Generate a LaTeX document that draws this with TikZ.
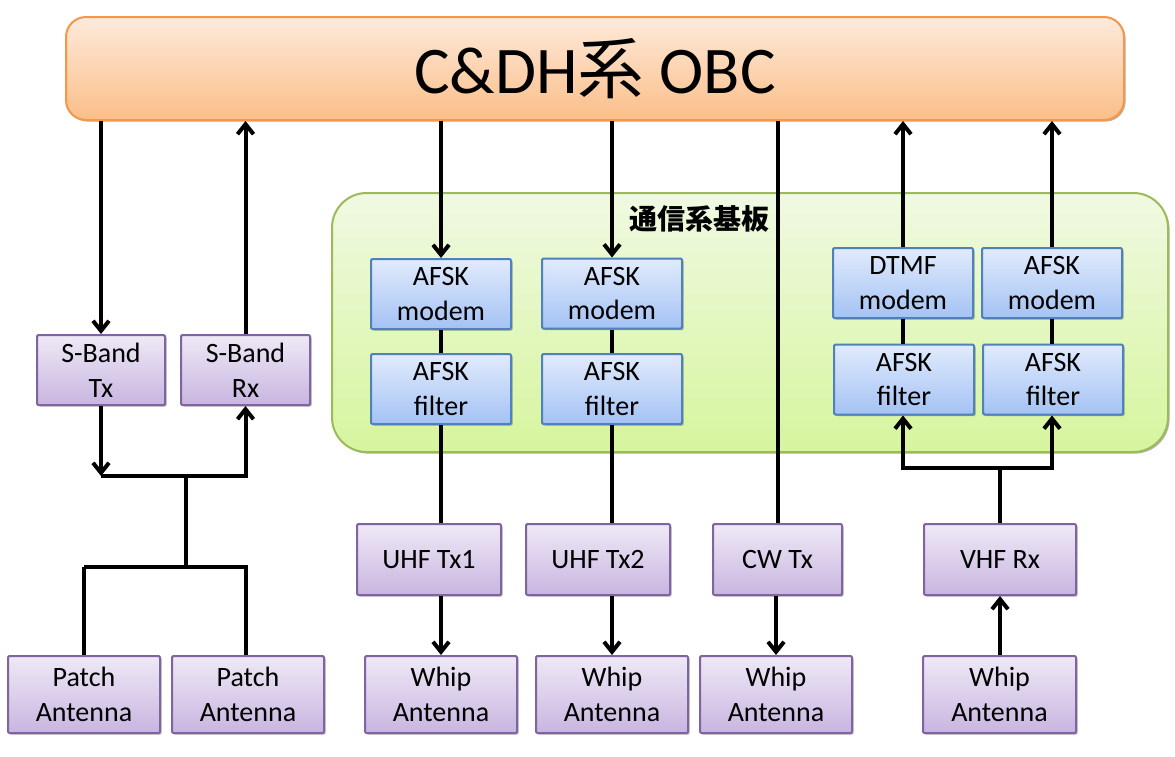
\documentclass[tikz,border=0pt]{standalone}
\usepackage{fontspec}
\setmainfont{Carlito}
\newfontfamily\cjk{Noto Sans CJK JP}
\usetikzlibrary{arrows.meta,shadows}
\newdimen\px \px=0.75pt
\definecolor{pborder}{HTML}{8064A2}
\definecolor{ptop}{HTML}{EFE9F6}
\definecolor{pbot}{HTML}{C8B5E0}
\definecolor{bborder}{HTML}{4F81BD}
\definecolor{btop}{HTML}{E1EBFC}
\definecolor{bbot}{HTML}{A4C2F4}
\definecolor{oborder}{HTML}{F79646}
\definecolor{otop}{HTML}{FDEADB}
\definecolor{obot}{HTML}{FBBE88}
\definecolor{gborder}{HTML}{9BBB59}
\definecolor{gtop}{HTML}{F0F9E2}
\definecolor{gbot}{HTML}{D6F59E}
\tikzset{
  shad/.style={drop shadow={shadow xshift=1.2pt,shadow yshift=-1.2pt,opacity=0.3,fill=black}},
  pbox/.style={shad,draw=pborder,line width=1.5pt,top color=ptop,bottom color=pbot,
    rounded corners=1pt,inner sep=0pt,align=center,font=\fontsize{21}{26}\selectfont},
  bbox/.style={shad,draw=bborder,line width=1.5pt,top color=btop,bottom color=bbot,
    rounded corners=1pt,inner sep=0pt,align=center,font=\fontsize{21}{26}\selectfont,
    minimum width=140\px,minimum height=70\px},
  conn/.style={line width=3pt},
  arr/.style={conn,-{Straight Barb[length=7.5pt,width=12pt,line width=3pt]}},
}
\begin{document}
\begin{tikzpicture}[x=0.75pt,y=-0.75pt]
\useasboundingbox (0,0) rectangle (1175,757);
% green board
\node[shad,draw=gborder,line width=1.5pt,top color=gtop,bottom color=gbot,rounded corners=26pt,
  minimum width=836\px,minimum height=259\px,inner sep=0pt] (board) at (750,322.5) {};
\node[font=\cjk\bfseries\fontsize{21}{24}\selectfont] (boardlbl) at (699,219) {通信系基板};
% OBC
\node[shad,draw=oborder,line width=1.5pt,top color=otop,bottom color=obot,rounded corners=15pt,
  minimum width=1058\px,minimum height=103\px,inner sep=0pt,font=\fontsize{50}{58}\selectfont] (obc) at (595,68.5) {C\&DH{\cjk 系} OBC};
% S-band
\node[pbox,minimum width=128\px,minimum height=70\px] (stx) at (101,370) {S-Band\\Tx};
\node[pbox,minimum width=129\px,minimum height=70\px] (srx) at (245.5,370) {S-Band\\Rx};
\node[pbox,minimum width=152\px,minimum height=77\px] (pa1) at (84,694.5) {Patch\\Antenna};
\node[pbox,minimum width=152\px,minimum height=77\px] (pa2) at (248,694.5) {Patch\\Antenna};
% blue boxes
\node[bbox] (m1) at (441,294) {AFSK\\modem};
\node[bbox] (f1) at (441,389) {AFSK\\filter};
\node[bbox] (m2) at (612,293.5) {AFSK\\modem};
\node[bbox] (f2) at (612,389) {AFSK\\filter};
\node[bbox] (m3) at (903,283) {DTMF\\modem};
\node[bbox] (m4) at (1052,283) {AFSK\\modem};
\node[bbox] (f3) at (904,379.5) {AFSK\\filter};
\node[bbox] (f4) at (1053,379.5) {AFSK\\filter};
% transmitters/receivers
\node[pbox,minimum width=144\px,minimum height=71\px] (u1) at (429,559.5) {UHF Tx1};
\node[pbox,minimum width=144\px,minimum height=71\px] (u2) at (598,559.5) {UHF Tx2};
\node[pbox,minimum width=129\px,minimum height=71\px] (cw) at (777.5,559.5) {CW Tx};
\node[pbox,minimum width=152\px,minimum height=71\px] (vhf) at (1000,559.5) {VHF Rx};
% whips
\node[pbox,minimum width=152\px,minimum height=77\px] (w1) at (441,694.5) {Whip\\Antenna};
\node[pbox,minimum width=152\px,minimum height=77\px] (w2) at (612,694.5) {Whip\\Antenna};
\node[pbox,minimum width=152\px,minimum height=77\px] (w3) at (776,694.5) {Whip\\Antenna};
\node[pbox,minimum width=153\px,minimum height=77\px] (w4) at (999.5,694.5) {Whip\\Antenna};
% junctions
\coordinate (sj) at (186,476);
\coordinate (pj) at (186,567);
\coordinate (vj) at (1000,468);
% S-band connectors
\draw[arr] (stx.north |- obc.south) -- (stx.north);
\draw[arr] (srx.north) -- (srx.north |- obc.south);
\draw[arr] (stx.south) -- (stx.south |- sj);
\draw[arr] (sj) -| (srx.south);
\draw[conn] (stx.south |- sj) -- (sj) -- (pj);
\draw[conn] (pa1.north |- pj) -- (pj) -- (246,567) -- (pa2.north -| 246,0);
\draw[conn] (pa1.north |- pj) -- (pa1.north);
% UHF 1
\draw[arr] (m1.north |- obc.south) -- (m1.north);
\draw[conn] (m1.south) -- (f1.north);
\draw[conn] (f1.south) -- (f1.south |- u1.north);
\draw[arr] (w1.north |- u1.south) -- (w1.north);
% UHF 2
\draw[arr] (m2.north |- obc.south) -- (m2.north);
\draw[conn] (m2.south) -- (f2.north);
\draw[conn] (f2.south) -- (f2.south |- u2.north);
\draw[arr] (w2.north |- u2.south) -- (w2.north);
% CW
\draw[conn] (cw.north |- obc.south) -- (cw.north);
\draw[arr] (w3.north |- cw.south) -- (w3.north);
% VHF
\draw[arr] (m3.north) -- (m3.north |- obc.south);
\draw[arr] (m4.north) -- (m4.north |- obc.south);
\draw[conn] (m3.south) -- (m3.south |- f3.north);
\draw[conn] (m4.south) -- (m4.south |- f4.north);
\draw[conn] (vhf.north) -- (vj);
\draw[arr] (vj) -| (m3.south |- f3.south);
\draw[arr] (vj) -| (m4.south |- f4.south);
\draw[arr] (vhf.south |- w4.north) -- (vhf.south);
\end{tikzpicture}
\end{document}
